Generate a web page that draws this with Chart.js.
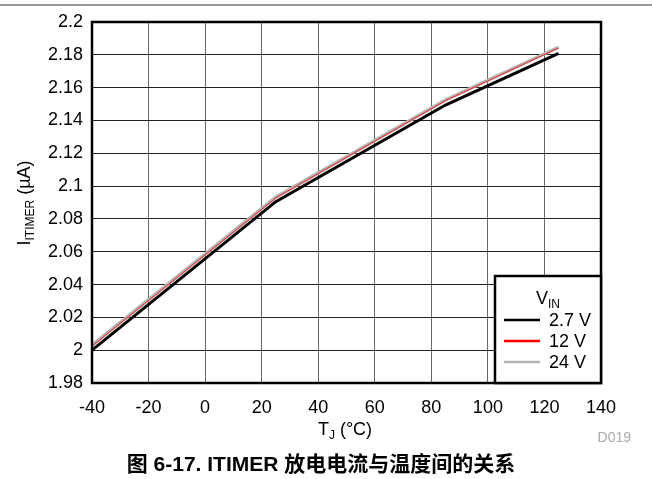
<!DOCTYPE html>
<html>
<head>
<meta charset="utf-8">
<script src="https://cdn.jsdelivr.net/npm/chart.js@4.4.1/dist/chart.umd.min.js"></script>
<style>
  html, body { margin: 0; padding: 0; background: #fff; }
  #wrap { width: 652px; height: 479px; position: relative; }
</style>
</head>
<body>
<div id="wrap"><canvas id="chart" width="652" height="479"></canvas></div>
<script>
// temperatures (°C) and ITIMER current (µA) per supply voltage
const tempsC = [-40, 25, 85, 125];
const vin27 = [2.0, 2.0905, 2.1494, 2.1809];
const vin12 = [2.0025, 2.0928, 2.1521, 2.1842];
const vin24 = [2.003, 2.0932, 2.1525, 2.1846];
const seriesLabels = ["2.7 V", "12 V", "24 V"];
const xTicks = [-40, -20, 0, 20, 40, 60, 80, 100, 120, 140];
const yTicks = [1.98, 2, 2.02, 2.04, 2.06, 2.08, 2.1, 2.12, 2.14, 2.16, 2.18, 2.2];

const FONT = '"Liberation Sans", Arial, sans-serif';

const toPoints = (vals) => tempsC.map((t, i) => ({ x: t, y: vals[i] }));

// text with a subscript part, returns total width
function subText(ctx, parts, x, y, big, small, drop, align) {
  ctx.font = big + "px " + FONT;
  const w1 = ctx.measureText(parts[0]).width;
  const w3 = ctx.measureText(parts[2]).width;
  ctx.font = small + "px " + FONT;
  const w2 = ctx.measureText(parts[1]).width;
  const total = w1 + w2 + w3;
  let x0 = align === "center" ? x - total / 2 : x;
  ctx.textAlign = "left";
  ctx.font = big + "px " + FONT;
  ctx.fillText(parts[0], x0, y);
  ctx.font = small + "px " + FONT;
  ctx.fillText(parts[1], x0 + w1, y + drop);
  ctx.font = big + "px " + FONT;
  ctx.fillText(parts[2], x0 + w1 + w2, y);
  return total;
}

// frame, axis titles, legend box, caption
const decorations = {
  id: "decorations",
  afterDraw(chart) {
    const ctx = chart.ctx;
    const a = chart.chartArea;
    ctx.save();

    // top rule
    ctx.strokeStyle = "#777";
    ctx.lineWidth = 1.5;
    ctx.beginPath();
    ctx.moveTo(0, 5);
    ctx.lineTo(652, 5);
    ctx.stroke();

    // plot frame
    ctx.strokeStyle = "#000";
    ctx.lineWidth = 2.5;
    ctx.strokeRect(a.left, a.top, a.right - a.left, a.bottom - a.top);

    ctx.fillStyle = "#000";
    ctx.textBaseline = "alphabetic";

    // x title T_J (°C)
    subText(ctx, ["T", "J", " (°C)"], 345, 435, 18, 12, 4, "center");

    // y title I_ITIMER (µA)
    ctx.save();
    ctx.translate(30, 203);
    ctx.rotate(-Math.PI / 2);
    subText(ctx, ["I", "ITIMER", " (µA)"], 0, 0, 18, 12, 4, "center");
    ctx.restore();

    // figure id
    ctx.fillStyle = "#aaa";
    ctx.font = "14px " + FONT;
    ctx.textAlign = "right";
    ctx.fillText("D019", 631, 442);

    // caption
    ctx.fillStyle = "#000";
    ctx.font = 'bold 21px "Liberation Sans", Arial, "Noto Sans CJK SC", sans-serif';
    ctx.textAlign = "center";
    ctx.fillText("图 6-17. ITIMER 放电电流与温度间的关系", 321, 471);

    // legend box
    const lx = 495, ly = 276;
    ctx.fillStyle = "#fff";
    ctx.fillRect(lx, ly, a.right - lx, a.bottom - ly);
    ctx.strokeStyle = "#000";
    ctx.lineWidth = 2.5;
    ctx.strokeRect(lx, ly, a.right - lx, a.bottom - ly);

    ctx.fillStyle = "#000";
    subText(ctx, ["V", "IN", ""], 548, 304, 18, 12, 4, "center");

    const ds = chart.data.datasets;
    ds.forEach((d, i) => {
      const yy = 320 + i * 21;
      ctx.strokeStyle = d.borderColor;
      ctx.lineWidth = 2.5;
      ctx.beginPath();
      ctx.moveTo(504, yy);
      ctx.lineTo(540, yy);
      ctx.stroke();
      ctx.fillStyle = "#000";
      ctx.font = "18px " + FONT;
      ctx.textAlign = "left";
      ctx.textBaseline = "middle";
      ctx.fillText(d.label, 549, yy + 1);
    });

    ctx.restore();
  },
};

new Chart(document.getElementById("chart"), {
  type: "line",
  data: {
    datasets: [
      { label: seriesLabels[0], data: toPoints(vin27), borderColor: "#000000", borderWidth: 3 },
      { label: seriesLabels[1], data: toPoints(vin12), borderColor: "#ff0000", borderWidth: 0.8 },
      { label: seriesLabels[2], data: toPoints(vin24), borderColor: "#b4b4b4", borderWidth: 3.5 },
    ],
  },
  options: {
    responsive: false,
    animation: false,
    events: [],
    layout: { padding: { top: 22, right: 51, left: 0, bottom: 0 } },
    elements: {
      point: { radius: 0 },
      line: { tension: 0, fill: false },
    },
    plugins: {
      legend: { display: false },
      tooltip: { enabled: false },
    },
    scales: {
      x: {
        type: "linear",
        min: -40,
        max: 140,
        afterFit: (s) => { s.height = 96; },
        afterBuildTicks: (s) => { s.ticks = xTicks.map((v) => ({ value: v })); },
        grid: { color: "#666", lineWidth: 1, drawTicks: false },
        border: { display: false },
        ticks: {
          padding: 14,
          color: "#000",
          font: { family: FONT, size: 18 },
          callback: (v) => String(v),
        },
      },
      y: {
        type: "linear",
        min: 1.98,
        max: 2.2,
        afterFit: (s) => { s.width = 92; },
        afterBuildTicks: (s) => { s.ticks = yTicks.map((v) => ({ value: v })); },
        grid: { color: "#222", lineWidth: 1, drawTicks: false },
        border: { display: false },
        ticks: {
          padding: 9,
          color: "#000",
          font: { family: FONT, size: 18 },
          callback: (v) => String(Number(v.toFixed(2))),
        },
      },
    },
  },
  plugins: [decorations],
});
</script>
</body>
</html>
